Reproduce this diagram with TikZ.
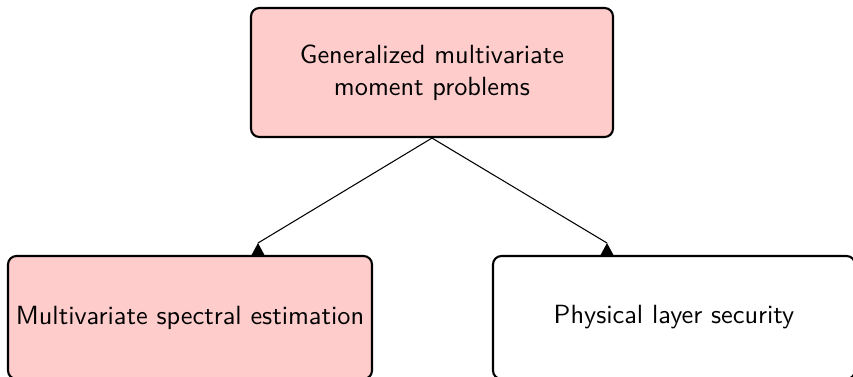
\documentclass[tikz,border=0pt]{standalone}
\usetikzlibrary{calc}
\definecolor{boxpink}{RGB}{255,204,204}
\begin{document}
\begin{tikzpicture}[x=0.38pt,y=-0.38pt,
  box/.style={draw=black, line width=0.8pt, rounded corners=3.2pt, align=center,
    font=\sffamily, inner sep=0pt},
  conn/.style={draw=black, line width=0.4pt},
  tip/.style={fill=black}]
\useasboundingbox (0,0) rectangle (853,376);
\clip (0,0) rectangle (853,376);
\node[box, fill=boxpink, minimum width=362*0.38pt, minimum height=129*0.38pt]
  (top) at (432,72.5) {Generalized multivariate\\moment problems};
\node[box, fill=boxpink, minimum width=364*0.38pt, minimum height=123*0.38pt]
  (left) at (190,317.5) {Multivariate spectral estimation};
\node[box, minimum width=362*0.38pt, minimum height=123*0.38pt]
  (right) at (674,317.5) {Physical layer security};
\coordinate (la) at (258,243);
\coordinate (ra) at (607,243);
\draw[conn] (top.south) -- (la);
\draw[conn] (top.south) -- (ra);
\fill[tip] (la) -- ++(-7,13) -- ++(14,0) -- cycle;
\fill[tip] (ra) -- ++(-7,13) -- ++(14,0) -- cycle;
\end{tikzpicture}
\end{document}
